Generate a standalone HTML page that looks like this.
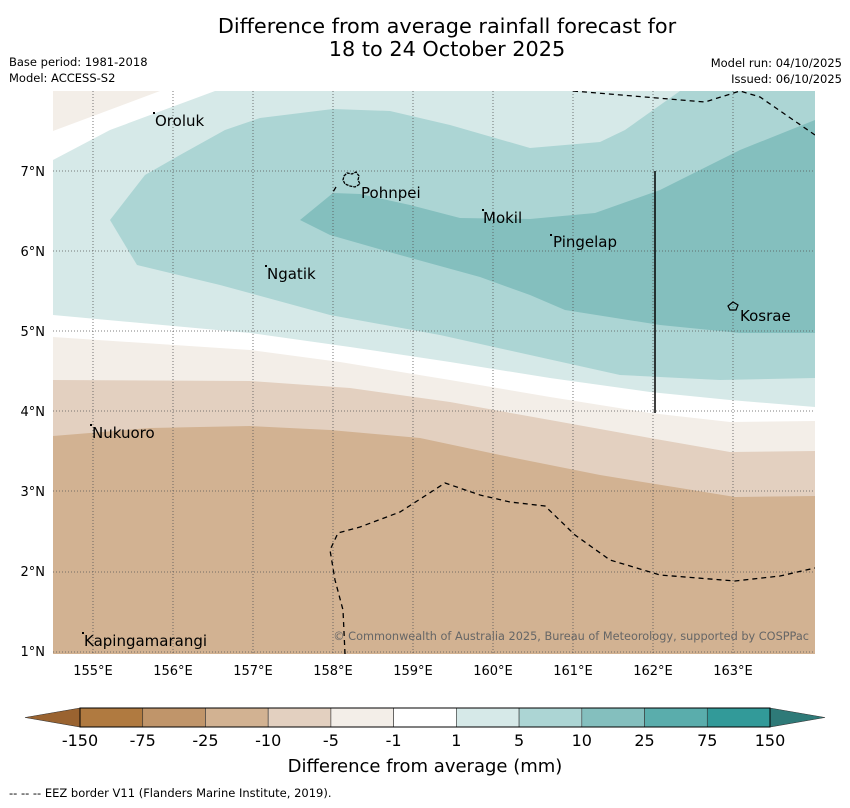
<!DOCTYPE html>
<html><head><meta charset="utf-8">
<style>
body{margin:0;background:#fff;font-family:"DejaVu Sans","Liberation Sans",sans-serif;}
svg text{font-family:"DejaVu Sans","Liberation Sans",sans-serif;}
</style></head>
<body>
<svg width="850" height="804" xmlns="http://www.w3.org/2000/svg">
<text x="447" y="33" font-size="20.8" text-anchor="middle">Difference from average rainfall forecast for</text>
<text x="447" y="56" font-size="20.8" text-anchor="middle">18 to 24 October 2025</text>
<text x="9" y="66" font-size="11.5">Base period: 1981-2018</text>
<text x="9" y="82" font-size="11.5">Model: ACCESS-S2</text>
<text x="842" y="67" font-size="11.5" text-anchor="end">Model run: 04/10/2025</text>
<text x="842" y="83" font-size="11.5" text-anchor="end">Issued: 06/10/2025</text>

<defs><clipPath id="mc"><rect x="53" y="91" width="762" height="563"/></clipPath></defs>
<g clip-path="url(#mc)">
<rect x="53" y="91" width="762" height="563" fill="#d2b292"/>
<path d="M53,91 L815,91 L815,496 L735,497 L680,488 L600,475 L500,455 L420,438 L330,430 L250,426 L150,428 L53,436Z" fill="#e3d0c0"/>
<path d="M53,91 L815,91 L815,451 L730,452 L650,438 L550,420 L450,402 L350,388 L250,381 L53,380Z" fill="#f3eee8"/>
<path d="M53,91 L815,91 L815,421 L730,422 L650,413 L550,397 L450,380 L340,362 L250,350 L53,337Z" fill="#ffffff"/>
<path d="M53,160 L110,130 L215,91 L815,91 L815,407 L730,400 L650,392 L550,378 L450,362 L350,347 L250,333 L53,315Z" fill="#d6e9e8"/>
<path d="M53,91 L160,91 L53,131Z" fill="#f3eee8"/>
<path d="M110,220 L145,175 L180,155 L225,130 L260,118 L333,109 L390,111 L450,125 L530,148 L600,142 L625,130 L680,91 L815,91 L815,378 L720,380 L620,375 L530,355 L440,335 L330,315 L220,285 L137,265Z" fill="#acd5d4"/>
<path d="M300,220 L333,193 L360,194 L410,205 L460,218 L530,219 L595,213 L660,190 L740,150 L815,120 L815,333 L740,333 L660,325 L565,310 L530,295 L480,277 L440,266 L400,255 L330,235Z" fill="#84bfbe"/>
<g stroke="#555" stroke-width="0.8" stroke-dasharray="1,2">
<line x1="93" y1="91" x2="93" y2="654"/><line x1="173" y1="91" x2="173" y2="654"/><line x1="253" y1="91" x2="253" y2="654"/><line x1="333" y1="91" x2="333" y2="654"/><line x1="413" y1="91" x2="413" y2="654"/><line x1="493" y1="91" x2="493" y2="654"/><line x1="573" y1="91" x2="573" y2="654"/><line x1="653" y1="91" x2="653" y2="654"/><line x1="733" y1="91" x2="733" y2="654"/>
<line x1="53" y1="171" x2="815" y2="171"/><line x1="53" y1="251" x2="815" y2="251"/><line x1="53" y1="331" x2="815" y2="331"/><line x1="53" y1="411" x2="815" y2="411"/><line x1="53" y1="491" x2="815" y2="491"/><line x1="53" y1="572" x2="815" y2="572"/><line x1="53" y1="652" x2="815" y2="652"/>
</g>
<g fill="none" stroke="#000" stroke-width="1.3" stroke-dasharray="5,4">
<path d="M573,91 L705,102 L740,91 L760,97 L815,135"/>
<path d="M345,654 L343,610 L335,580 L330,550 L338,533 L360,527 L400,512 L445,483 L480,495 L510,502 L545,506 L575,535 L610,560 L660,575 L735,581 L780,576 L815,568"/>
<path d="M336,187 L333,192"/>
</g>
<line x1="655" y1="171" x2="655" y2="413" stroke="#000" stroke-width="1.5"/>
<path d="M344,176 L347,173 L352,174 L356,172 L359,176 L358,180 L360,184 L355,187 L350,186 L345,184 L343,180Z" fill="none" stroke="#000" stroke-width="1.3" stroke-dasharray="3,1"/>
<path d="M728,306 L733,302 L738,305 L736,310 L730,310Z" fill="none" stroke="#000" stroke-width="1.2"/>
<g fill="#000">
<rect x="153" y="112" width="2" height="2"/><rect x="482" y="209" width="2" height="2"/><rect x="550" y="234" width="2" height="2"/><rect x="265" y="265" width="2" height="2"/><rect x="90" y="424" width="2" height="2"/><rect x="82" y="632" width="2" height="2"/>
</g>
<g font-size="15" fill="#000">
<text x="155" y="126">Oroluk</text>
<text x="361" y="198">Pohnpei</text>
<text x="483" y="223">Mokil</text>
<text x="553" y="247">Pingelap</text>
<text x="267" y="279">Ngatik</text>
<text x="740" y="321">Kosrae</text>
<text x="92" y="438">Nukuoro</text>
<text x="84" y="646">Kapingamarangi</text>
</g>
<text x="809" y="640" font-size="11.3" fill="#666" text-anchor="end">© Commonwealth of Australia 2025, Bureau of Meteorology, supported by COSPPac</text>
</g>
<g font-size="13" fill="#000" id="axes"></g>
<g id="cbar"></g>
<text x="425" y="772" font-size="18" text-anchor="middle">Difference from average (mm)</text>
<text x="9" y="797" font-size="11.5">--  --  -- EEZ border V11 (Flanders Marine Institute, 2019).</text>
</svg>
<script>
const lonTicks=[155,156,157,158,159,160,161,162,163];
const latTicks=[7,6,5,4,3,2,1];
const levels=["-150","-75","-25","-10","-5","-1","1","5","10","25","75","150"];
const colors=["#b07a40","#c0956a","#d2b292","#e3d0c0","#f3eee8","#ffffff","#d6e9e8","#acd5d4","#84bfbe","#5aadac","#329a99"];
const NS="http://www.w3.org/2000/svg";
const xs=l=>53+(l-154.5)*80, ys=l=>91+(8-l)*80;
const ax=document.getElementById('axes');
lonTicks.forEach(l=>{const t=document.createElementNS(NS,'text');t.setAttribute('x',xs(l));t.setAttribute('y',675);t.setAttribute('text-anchor','middle');t.textContent=l+'°E';


ax.appendChild(t);});
latTicks.forEach(l=>{const t=document.createElementNS(NS,'text');t.setAttribute('x',45);t.setAttribute('y',ys(l)+5);t.setAttribute('text-anchor','end');t.textContent=l+'°N';


ax.appendChild(t);});
const cb=document.getElementById('cbar');
const x0=80,x1=770,w=(x1-x0)/colors.length;
colors.forEach((c,i)=>{const r=document.createElementNS(NS,'rect');r.setAttribute('x',x0+i*w);r.setAttribute('y',708);r.setAttribute('width',w);r.setAttribute('height',19);r.setAttribute('fill',c);r.setAttribute('stroke','#333');r.setAttribute('stroke-width','0.6');


cb.appendChild(r);});
[["M80,708 L25,717.5 L80,727Z","#9a6330"],["M770,708 L825,717.5 L770,727Z","#2e7a78"]].forEach(p=>{const e=document.createElementNS(NS,'path');e.setAttribute('d',p[0]);e.setAttribute('fill',p[1]);e.setAttribute('stroke','#333');e.setAttribute('stroke-width','0.6');


cb.appendChild(e);});
const fr=document.createElementNS(NS,'rect');fr.setAttribute('x',x0);fr.setAttribute('y',708);fr.setAttribute('width',x1-x0);fr.setAttribute('height',19);fr.setAttribute('fill','none');fr.setAttribute('stroke','#000');


cb.appendChild(fr);
levels.forEach((v,i)=>{const t=document.createElementNS(NS,'text');t.setAttribute('x',x0+i*w);t.setAttribute('y',746);t.setAttribute('font-size','16');t.setAttribute('text-anchor','middle');t.textContent=v;


cb.appendChild(t);});
</script>
</body></html>
